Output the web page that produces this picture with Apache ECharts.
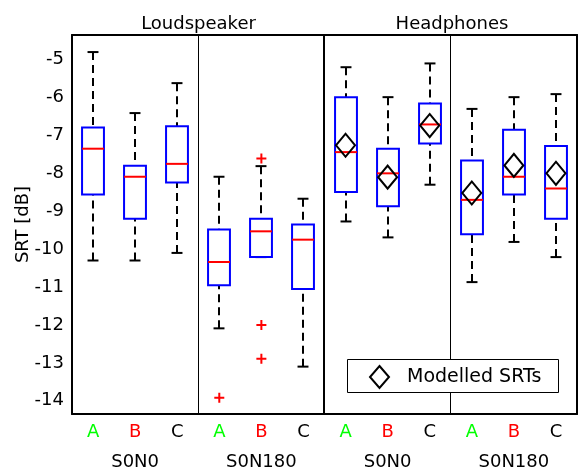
<!DOCTYPE html>
<html><head><meta charset="utf-8">
<script src="https://cdn.jsdelivr.net/npm/echarts@6/dist/echarts.min.js"></script>
<style>html,body{margin:0;padding:0;background:#fff}#c{width:578px;height:471px}</style>
</head><body><div id="c"></div>
<script>
// ---- data ----
const categories = ['A','B','C','A','B','C','A','B','C','A','B','C'];
const conditionLabels = ['S0N0','S0N180','S0N0','S0N180'];
const setupTitles = ['Loudspeaker','Headphones'];
const whiskerHigh = [-4.80,-6.41,-5.62,-8.09,-7.81,-8.67,-5.20,-5.99,-5.10,-6.30,-5.99,-5.91];
const quart3      = [-6.79,-7.80,-6.76,-9.48,-9.20,-9.35,-5.99,-7.35,-6.16,-7.66,-6.85,-7.28];
const medians     = [-7.35,-8.09,-7.75,-10.34,-9.53,-9.75,-7.44,-8.00,-6.71,-8.70,-8.09,-8.40];
const quart1      = [-8.56,-9.20,-8.24,-10.95,-10.21,-11.05,-8.49,-8.87,-7.21,-9.61,-8.56,-9.20];
const whiskerLow  = [-10.30,-10.30,-10.10,-12.09,-10.21,-13.10,-9.27,-9.69,-8.30,-10.87,-9.81,-10.21];
const outliers    = [[3,-13.92],[4,-7.61],[4,-12.00],[4,-12.89]];
const modelledIdx = [6,7,8,9,10,11];
const modelledSRT = [-7.26,-8.10,-6.74,-8.52,-7.79,-8.00];
const dividerAfter = [2,5,8];

const FONT = '"DejaVu Sans", sans-serif';
const FS = 18;
const chart = echarts.init(document.getElementById('c'), null, {renderer:'canvas'});

const boxData = categories.map((c,i)=>[i, whiskerLow[i], quart1[i], medians[i], quart3[i], whiskerHigh[i]]);

function renderBox(params, api){
  const i = api.value(0);
  const band = api.size([1,0])[0];
  const half = band*0.26, cap = band*0.13;
  const p = k => api.coord([i, api.value(k)]);
  const x = Math.round(p(1)[0]);
  const yLo=p(1)[1], yQ1=p(2)[1], yMed=p(3)[1], yQ3=p(4)[1], yHi=p(5)[1];
  const dash = {stroke:'#000', lineWidth:2, lineDash:[8,5]};
  const solid = {stroke:'#000', lineWidth:2};
  return {type:'group', children:[
    {type:'line', shape:{x1:x,y1:yHi,x2:x,y2:yQ3}, style:dash},
    {type:'line', shape:{x1:x,y1:yLo,x2:x,y2:yQ1}, style:dash},
    {type:'line', shape:{x1:x-cap,y1:yHi,x2:x+cap,y2:yHi}, style:solid},
    {type:'line', shape:{x1:x-cap,y1:yLo,x2:x+cap,y2:yLo}, style:solid},
    {type:'rect', shape:{x:x-half,y:yQ3,width:2*half,height:yQ1-yQ3}, style:{fill:'#fff', stroke:'#0000ff', lineWidth:2}},
    {type:'line', shape:{x1:x-half,y1:yMed,x2:x+half,y2:yMed}, style:{stroke:'#ff0000', lineWidth:2}}
  ]};
}
function renderDivider(params, api){
  const cs = params.coordSys;
  const band = api.size([1,0])[0];
  const x = api.coord([api.value(0), 0])[0] + band/2;
  const w = params.dataIndex === 1 ? 2 : 1;
  const xx = w===1 ? Math.floor(x)+0.5 : Math.round(x);
  return {type:'line', shape:{x1:xx,y1:cs.y,x2:xx,y2:cs.y+cs.height}, style:{stroke:'#000', lineWidth:w}};
}

const option = {
  backgroundColor:'#fff',
  animation:false,
  textStyle:{fontFamily:FONT},
  grid:{left:72, right:1, top:35, bottom:57},
  xAxis:[{
    type:'category', data:categories, boundaryGap:true,
    axisLine:{lineStyle:{color:'#000', width:2}},
    axisTick:{inside:true, alignWithLabel:true, length:5, lineStyle:{color:'#000', width:2}},
    axisLabel:{interval:0, margin:3, fontFamily:FONT,
      formatter:(v,idx)=>{
        const k = v==='A'?'a':(v==='B'?'b':'c');
        let s = '{'+k+'|'+v+'}';
        if (idx%3===1) s += '\n{g|'+conditionLabels[(idx-1)/3]+'}';
        return s;
      },
      rich:{
        a:{color:'#00ff00', fontSize:FS, lineHeight:30, fontFamily:FONT},
        b:{color:'#ff0000', fontSize:FS, lineHeight:30, fontFamily:FONT},
        c:{color:'#000', fontSize:FS, lineHeight:30, fontFamily:FONT},
        g:{color:'#000', fontSize:FS, lineHeight:30, fontFamily:FONT}
      }},
    splitLine:{show:false}
  },{
    type:'category', data:categories, position:'top', boundaryGap:true,
    axisLine:{lineStyle:{color:'#000', width:2}},
    axisTick:{inside:true, alignWithLabel:true, length:5, lineStyle:{color:'#000', width:2}},
    axisLabel:{show:false}, splitLine:{show:false}
  }],
  yAxis:[{
    type:'value', min:-14.35, max:-4.35, splitNumber:10,
    name:'SRT [dB]', nameLocation:'middle', nameGap:40, nameMoveOverlap:false,
    nameTextStyle:{color:'#000', fontSize:FS, fontFamily:FONT},
    axisLine:{show:true, lineStyle:{color:'#000', width:2}},
    axisTick:{inside:true, length:6, lineStyle:{color:'#000', width:2}},
    axisLabel:{showMinLabel:false, showMaxLabel:false, color:'#000', fontSize:FS, fontFamily:FONT, margin:8},
    splitLine:{show:false}
  },{
    type:'value', min:-14.35, max:-4.35, splitNumber:10, position:'right',
    axisLine:{show:true, lineStyle:{color:'#000', width:2}},
    axisTick:{inside:true, length:6, lineStyle:{color:'#000', width:2}},
    axisLabel:{show:false}, splitLine:{show:false}
  }],
  graphic:[
    {type:'text', x:198.5, y:24, z:10, style:{text:setupTitles[0], align:'center', verticalAlign:'middle', font:FS+'px '+FONT, fill:'#000'}},
    {type:'text', x:452, y:24, z:10, style:{text:setupTitles[1], align:'center', verticalAlign:'middle', font:FS+'px '+FONT, fill:'#000'}},
    {type:'rect', z:3, shape:{x:347.5, y:359.5, width:211, height:33}, style:{fill:'#fff', stroke:'#000', lineWidth:1}}
  ],
  legend:{
    left:369, top:365, padding:0, selectedMode:false, itemWidth:19, itemHeight:22, z:5,
    data:[{name:'Modelled SRTs', icon:'diamond', itemStyle:{color:'transparent', borderColor:'#000', borderWidth:2, opacity:1}}],
    textStyle:{color:'#000', fontSize:19, fontFamily:FONT, padding:[0,0,0,13]}
  },
  series:[
    {type:'custom', name:'dividers', data:dividerAfter.map(d=>[d]), renderItem:renderDivider, z:1, silent:true},
    {type:'custom', name:'boxes', data:boxData, renderItem:renderBox, encode:{x:0, y:[1,2,3,4,5]}, z:2},
    {type:'scatter', name:'outliers', data:outliers, symbol:'path://M4,0H6V4H10V6H6V10H4V6H0V4H4Z', symbolSize:10,
      itemStyle:{color:'#ff0000', opacity:1}, z:3},
    {type:'scatter', name:'Modelled SRTs', data:modelledIdx.map((k,j)=>[k, modelledSRT[j]]), symbol:'diamond', symbolSize:[19,23],
      itemStyle:{color:'transparent', borderColor:'#000', borderWidth:2, opacity:1}, z:4}
  ]
};
chart.setOption(option);
</script>
</body></html>
